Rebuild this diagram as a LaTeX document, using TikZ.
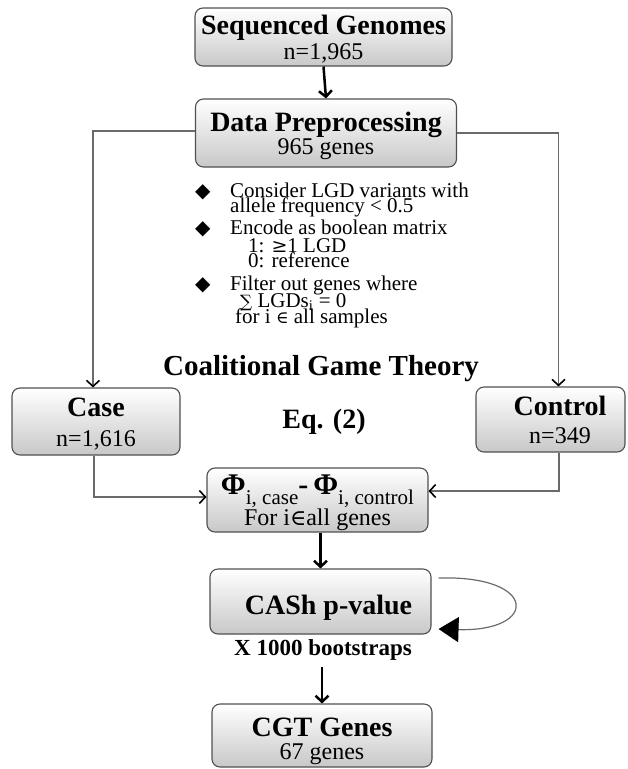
\documentclass[tikz,border=0pt]{standalone}
\usepackage{fontspec}
\setmainfont{Liberation Serif}
\newfontfamily\dvs{DejaVu Serif}
\newfontfamily\dvsans{DejaVu Sans}
\usetikzlibrary{arrows.meta}
\definecolor{boxline}{HTML}{505050}
\definecolor{connc}{HTML}{6A6A6A}
\definecolor{shadebot}{HTML}{C8C8C8}
\newcommand\TitleF{\bfseries\fontsize{28}{28}\selectfont}
\newcommand\SubF{\fontsize{24}{25}\selectfont}
\newcommand\SubsF{\fontsize{21}{21}\selectfont}
\newcommand\BulF{\fontsize{21}{15}\selectfont\lineskiplimit=-50pt\relax}
\newcommand\dia{{\dvsans\fontsize{20}{15}\selectfont ◆}}
\newcommand\vstrut[1]{\rule{0pt}{#1pt}}
\begin{document}
\begin{tikzpicture}[x=1pt,y=-1pt,
  box/.style={draw=boxline, line width=1.1pt, rounded corners=8pt,
    top color=white, bottom color=shadebot, align=center, inner sep=0pt, font=\SubF},
  conn/.style={draw=connc, line width=1.3pt,
    -{Straight Barb[length=6pt,width=13pt,line width=1.6pt,color=black]}},
  bigarrow/.style={draw=black, line width=2.5pt, -{Straight Barb[length=6pt,width=13pt]}},
  loopline/.style={draw=connc, line width=1.2pt, -{Triangle[length=20pt,width=25pt,color=black]}}]
\useasboundingbox (0,0) rectangle (628,769);

\node[box, minimum width=257pt, minimum height=58pt] (sg) at (323.5,37)
  {\vstrut{24.4}{\TitleF Sequenced Genomes}\\[0pt]n=1,965};
\node[box, minimum width=261pt, minimum height=68pt] (dp) at (326,133)
  {\vstrut{26}{\TitleF Data Preprocessing}\\[-2pt]965 genes};
\node[box, minimum width=168pt, minimum height=67pt] (case) at (96,421.5)
  {\vstrut{23.5}{\TitleF Case}\\[5pt]n=1,616};
\node[box, minimum width=149pt, minimum height=65pt] (control) at (550.5,419.5)
  {\hspace*{19pt}{\TitleF Control}\\[3pt]\hspace*{19pt}n=349};
\node[box, minimum width=221pt, minimum height=64pt] (phi) at (317.5,500)
  {\vstrut{26}{\bfseries\fontsize{30}{30}\selectfont Φ}\raisebox{-10pt}{\SubsF i, case}{\bfseries\fontsize{30}{30}\selectfont -\,Φ}\raisebox{-10pt}{\SubsF i, control}\\[0pt]
   For i{\dvs\fontsize{22}{22}\selectfont ∈}all genes};
\node[box, minimum width=221pt, minimum height=65pt] (cash) at (320.5,601.5)
  {\vstrut{32}\hspace*{16pt}{\TitleF CASh p-value}};
\node[box, minimum width=220pt, minimum height=63pt] (cgt) at (322,735.5)
  {\vstrut{29.5}{\TitleF CGT Genes}\\[-2pt]67 genes};

\node[anchor=base west, align=left, font=\BulF, inner sep=0pt] (bul) at (195,323)
  {\makebox[35pt][l]{\dia}Consider LGD variants with\\
   \hspace*{35pt}allele frequency < 0.5\\[7pt]
   \makebox[35pt][l]{\dia}Encode as boolean matrix\\[3pt]
   \hspace*{53pt}1: {\dvs\fontsize{19}{15}\selectfont ≥}1 LGD\\
   \hspace*{53pt}0: reference\\[8pt]
   \makebox[35pt][l]{\dia}Filter out genes where\\[2pt]
   \hspace*{45pt}{\dvs\fontsize{17}{15}\selectfont ∑} LGDs\textsubscript{i} = 0\\[1pt]
   \hspace*{40pt}for i {\dvs\fontsize{17}{15}\selectfont ∈} all samples};

\node[anchor=base, inner sep=0pt, font=\bfseries\fontsize{29}{29}\selectfont] (cgtheory) at (321,375) {Coalitional Game Theory};
\node[anchor=base, inner sep=0pt, font=\TitleF] (eq) at (324,428) {Eq. (2)};
\node[anchor=base, inner sep=0pt, font=\bfseries\fontsize{23}{23}\selectfont] (boot) at (323,655) {X 1000 bootstraps};

\draw[bigarrow] (sg.south) -- (dp.north);
\draw[conn] ([yshift=2pt]dp.west) -| ([xshift=-3pt]case.north);
\draw[conn] (dp.east) -| ([xshift=8pt]control.north);
\draw[conn] ([xshift=-2pt]case.south) |- ([yshift=3pt]phi.west);
\draw[conn] ([xshift=8.5pt]control.south) |- ([yshift=9pt]phi.east);
\draw[bigarrow] ([xshift=3pt]phi.south) -- ([xshift=3pt]phi.south |- cash.north);
\draw[bigarrow] ([yshift=-7pt]boot.south -| cgt.north) -- (cgt.north);

\coordinate (la) at ([xshift=7pt,yshift=23.5pt]cash.east);
\coordinate (lb) at ([xshift=7pt,yshift=-27.5pt]cash.east);
\draw[loopline] (la) .. controls +(100,-3) and +(100,3) .. (lb);
\end{tikzpicture}
\end{document}
